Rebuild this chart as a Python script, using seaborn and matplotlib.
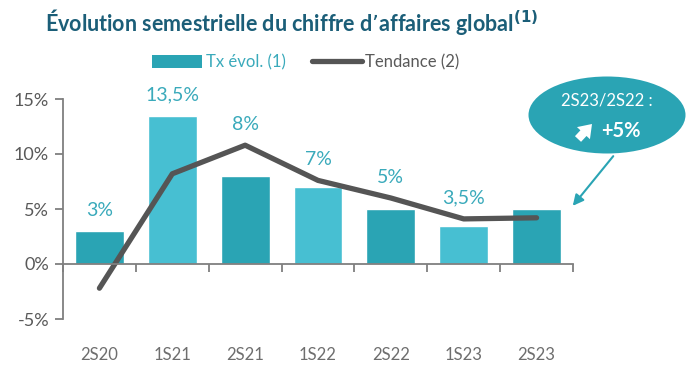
import matplotlib
matplotlib.use('Agg')
import matplotlib.pyplot as plt
import numpy as np
import seaborn as sns
from matplotlib.patches import Patch, Ellipse, FancyArrowPatch
from matplotlib.lines import Line2D

# Data
periods = ['2S20', '1S21', '2S21', '1S22', '2S22', '1S23', '2S23']
tx_evol = [3.0, 13.5, 8.0, 7.0, 5.0, 3.5, 5.0]
tendance = [-2.2, 8.2, 10.8, 7.6, 6.0, 4.1, 4.2]
bar_labels = ['3%', '13,5%', '8%', '7%', '5%', '3,5%', '']
y_ticks = [-5, 0, 5, 10, 15]

# Colours
dark_teal = '#2AA4B4'
light_teal = '#47BFD2'
label_teal = '#3AAABB'
line_grey = '#555555'
text_grey = '#595959'
title_col = '#1B5E78'

sns.set_style('white')
plt.rcParams['font.family'] = ['Lato', 'DejaVu Sans']

fig = plt.figure(figsize=(6.93, 3.65), dpi=100)
ax = fig.add_axes([63 / 693, 1 - 319 / 365, 510 / 693, 220 / 365])

bar_colors = [dark_teal if i % 2 == 0 else light_teal for i in range(len(periods))]
sns.barplot(x=periods, y=tx_evol, hue=periods, palette=bar_colors,
            legend=False, width=0.67, saturation=1, ax=ax)
sns.lineplot(x=np.arange(len(periods)), y=tendance, color=line_grey,
             linewidth=3.8, ax=ax, solid_capstyle='round')

# value labels above bar / line
for i, lab in enumerate(bar_labels):
    if lab:
        top = max(tx_evol[i], tendance[i])
        ax.text(i, top + 1.9, lab, ha='center', va='center',
                fontsize=14, color=label_teal, clip_on=False)

ax.set_ylim(-5, 15)
ax.set_xlim(-0.5, len(periods) - 0.5)
ax.set_yticks(y_ticks)
ax.set_yticklabels([f'{t}%' for t in y_ticks], fontsize=13, color=text_grey)

ax.spines['top'].set_visible(False)
ax.spines['right'].set_visible(False)
ax.spines['left'].set_color('#7F7F7F')
ax.spines['left'].set_linewidth(1.3)
ax.spines['bottom'].set_position(('data', 0))
ax.spines['bottom'].set_color('#7F7F7F')
ax.spines['bottom'].set_linewidth(1.3)

ax.tick_params(axis='y', direction='out', length=6, width=1.3,
               color='#7F7F7F', left=True, pad=4)
ax.set_xticks(np.arange(len(periods)))
ax.set_xticklabels(periods, fontsize=12, color='#6E6E6E')
ax.tick_params(axis='x', which='major', length=0, pad=60)
ax.set_xticks(np.arange(len(periods) + 1) - 0.5, minor=True)
ax.tick_params(axis='x', which='minor', direction='out', length=6,
               width=1.3, color='#7F7F7F', bottom=True)
ax.set_xlabel('')
ax.set_ylabel('')

# Title
fig.text(45 / 693, 1 - 22 / 365, 'Évolution semestrielle du chiffre d\u2019affaires global$^{\\mathbf{(1)}}$',
         fontsize=15.5, fontweight='bold', color=title_col, va='center', ha='left')

# Legend
handles = [Patch(facecolor=dark_teal, edgecolor='none'),
           Line2D([0], [0], color=line_grey, linewidth=3.8)]
fig.legend(handles, ['Tx évol. (1)', 'Tendance (2)'], loc='center',
           bbox_to_anchor=(306 / 693, 1 - 62 / 365), ncol=2, frameon=False,
           fontsize=12, labelcolor=[label_teal, text_grey],
           handlelength=3.0, handleheight=0.8, handletextpad=0.2,
           columnspacing=1.6)

# Bubble annotation
ell = Ellipse((607 / 693, 1 - 115 / 365), 157 / 693, 77 / 365,
              transform=fig.transFigure, facecolor=dark_teal, edgecolor='none')
fig.add_artist(ell)
fig.text(607 / 693, 1 - 101 / 365, '2S23/2S22 :', ha='center', va='center',
         fontsize=12, color='white')
up_arrow = FancyArrowPatch((578 / 693, 1 - 139 / 365), (592 / 693, 1 - 124 / 365),
                           transform=fig.transFigure, shrinkA=0, shrinkB=0,
                           arrowstyle='simple,head_length=0.6,head_width=0.85,tail_width=0.4',
                           mutation_scale=15, color='white', linewidth=0)
fig.add_artist(up_arrow)
fig.text(601 / 693, 1 - 131 / 365, '+5%', ha='left', va='center',
         fontsize=14.5, color='white', fontweight='bold')
arr = FancyArrowPatch((615 / 693, 1 - 154 / 365), (571 / 693, 1 - 208 / 365),
                      transform=fig.transFigure, arrowstyle='-|>',
                      mutation_scale=16, color=dark_teal, linewidth=1.5)
fig.add_artist(arr)

fig.savefig('out.png', dpi=100, facecolor='white')
plt.close(fig)
